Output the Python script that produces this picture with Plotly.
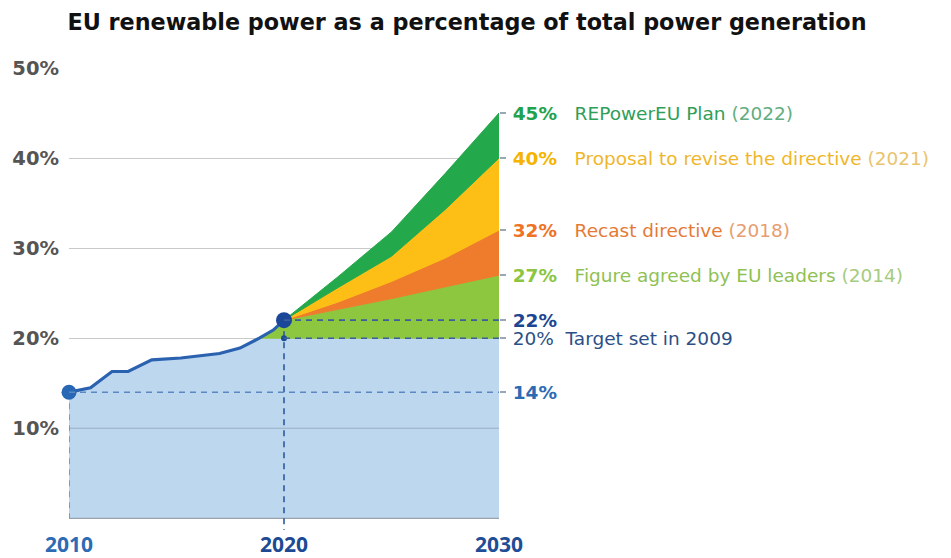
import plotly.graph_objects as go

# Share of renewables in EU power generation (%), observed
hist_years = [2010, 2011, 2012, 2012.75, 2013.85, 2015.2, 2017, 2017.95, 2018.85, 2019.5, 2020]
hist_share = [14.0, 14.5, 16.3, 16.3, 17.6, 17.8, 18.3, 18.9, 20.0, 20.9, 22.0]

# Target pathways from 2020 to 2030 (%)
path_years = [2020, 2022.5, 2025, 2027.5, 2030]
target_2009 = 20
path_2014 = [22, 23.2, 24.4, 25.7, 27]
path_2018 = [22, 24.0, 26.3, 28.9, 32]
path_2021 = [22, 25.6, 29.1, 34.3, 40]
path_2022 = [22, 26.8, 31.8, 38.3, 45]

x_ticks = [2010, 2020, 2030]
x_tick_colors = ["#2d6bb5", "#1c4a94", "#1f4d96"]
y_ticks = [10, 20, 30, 40, 50]

# Right-hand annotations: value, bold colour, caption, caption colour, year, year colour
right_items = [
    (45, "#23a24d", "REPowerEU Plan", "#2f9e58", "(2022)", "#62ad80"),
    (40, "#f4b400", "Proposal to revise the directive", "#f0b62a", "(2021)", "#e9c46e"),
    (32, "#ee7326", "Recast directive", "#e57a36", "(2018)", "#e79d70"),
    (27, "#8cc540", "Figure agreed by EU leaders", "#8fc153", "(2014)", "#a6cb80"),
    (22, "#1d4592", "", "", "", ""),
    (20, None, "Target set in 2009", "#2c4f86", "", ""),
    (14, "#2c6bb4", "", "", "", ""),
]

Y_MIN, Y_MAX = -1.3, 50

C_BLUE = "#bdd7ef"
C_LIME = "#8dc63f"
C_ORANGE = "#ef7b2c"
C_YELLOW = "#fdbf16"
C_GREEN = "#23a94b"

fig = go.Figure()

# Area under the observed series, capped at the 2009 target
cross = next(i for i, v in enumerate(hist_share) if v >= target_2009)
blue_x = hist_years[: cross + 1] + [path_years[-1]]
blue_y = [min(v, target_2009) for v in hist_share[: cross + 1]] + [target_2009]
fig.add_trace(go.Scatter(x=blue_x, y=blue_y, mode="lines", fill="tozeroy",
                         fillcolor=C_BLUE, line=dict(color=C_BLUE, width=0.5),
                         hoverinfo="skip", showlegend=False))


def band(upper_x, upper_y, lower_x, lower_y, color):
    xs = list(upper_x) + list(reversed(lower_x))
    ys = list(upper_y) + list(reversed(lower_y))
    fig.add_trace(go.Scatter(x=xs, y=ys, mode="lines", fill="toself",
                             fillcolor=color, line=dict(color=color, width=1),
                             hoverinfo="skip", showlegend=False))


# 2014 band: above the 20% target, under the observed line then the 27% path
band(hist_years[cross:] + path_years[1:], hist_share[cross:] + path_2014[1:],
     [hist_years[cross], path_years[-1]], [target_2009, target_2009], C_LIME)
band(path_years, path_2018, path_years, path_2014, C_ORANGE)
band(path_years, path_2021, path_years, path_2018, C_YELLOW)
band(path_years, path_2022, path_years, path_2021, C_GREEN)

# 10% gridline shown over the filled area, and the baseline
fig.add_trace(go.Scatter(x=[x_ticks[0], x_ticks[-1]], y=[10, 10], mode="lines",
                         line=dict(color="rgba(110,125,145,0.45)", width=1),
                         hoverinfo="skip", showlegend=False))
fig.add_trace(go.Scatter(x=[x_ticks[0], x_ticks[-1]], y=[0, 0], mode="lines",
                         line=dict(color="#9aa3ad", width=1.2),
                         hoverinfo="skip", showlegend=False))

dash = "6px,5px"
# Reference lines (drawn on the right-hand axis, which shares the scale)
fig.add_trace(go.Scatter(x=[hist_years[0], path_years[-1]], y=[hist_share[0]] * 2,
                         mode="lines", yaxis="y2",
                         line=dict(color="#5b88c2", width=1.6, dash=dash),
                         hoverinfo="skip", showlegend=False))
fig.add_trace(go.Scatter(x=[path_years[0], path_years[-1]], y=[hist_share[-1]] * 2,
                         mode="lines", yaxis="y2",
                         line=dict(color="#3b5f9c", width=1.6, dash=dash),
                         hoverinfo="skip", showlegend=False))
fig.add_trace(go.Scatter(x=[path_years[0], path_years[-1]], y=[target_2009] * 2,
                         mode="lines", yaxis="y2",
                         line=dict(color="#3b5f9c", width=1.6, dash=dash),
                         hoverinfo="skip", showlegend=False))
fig.add_trace(go.Scatter(x=[hist_years[0]] * 2, y=[hist_share[0], 0], mode="lines",
                         line=dict(color="#6a8cba", width=1.6, dash=dash),
                         hoverinfo="skip", showlegend=False))
fig.add_trace(go.Scatter(x=[hist_years[-1]] * 2, y=[hist_share[-1], Y_MIN], mode="lines",
                         line=dict(color="#2c5aa0", width=1.6, dash=dash),
                         hoverinfo="skip", showlegend=False))

# Observed series
fig.add_trace(go.Scatter(x=hist_years, y=hist_share, mode="lines",
                         line=dict(color="#2a62b0", width=3.2),
                         hoverinfo="skip", showlegend=False))

# End-point markers
fig.add_trace(go.Scatter(x=[hist_years[0], hist_years[-1]], y=[hist_share[0], hist_share[-1]],
                         mode="markers", cliponaxis=False,
                         marker=dict(size=[15, 16], color=["#2867b4", "#1a4799"],
                                     opacity=1, line=dict(width=0)),
                         hoverinfo="skip", showlegend=False))
fig.add_trace(go.Scatter(x=[hist_years[-1]], y=[target_2009], mode="markers",
                         marker=dict(size=6, color="#1f4b97", opacity=1, line=dict(width=0)),
                         hoverinfo="skip", showlegend=False))

# Right-hand labels
r_vals, r_text = [], []
for val, bold_col, cap, cap_col, yr, yr_col in right_items:
    if bold_col:
        t = f"<span style='color:{bold_col}'><b>{val}%</b></span>"
        gap = "\u00a0\u00a0\u00a0"
    else:
        t = f"<span style='color:{cap_col}'>{val}%</span>"
        gap = "\u00a0\u00a0"
    if cap:
        t += f"<span style='color:{cap_col}'>{gap}{cap}</span>"
    if yr:
        t += f"<span style='color:{yr_col}'> {yr}</span>"
    r_vals.append(val)
    r_text.append(t)

x_text = [f"<span style='color:{c}'><b>{y}</b></span>" for y, c in zip(x_ticks, x_tick_colors)]

fig.update_layout(
    width=951, height=558, autosize=False,
    margin=dict(l=69.3, r=451.7, t=68, b=28.3, pad=0),
    paper_bgcolor="white", plot_bgcolor="white",
    title=dict(text="<b>EU renewable power as a percentage of total power generation</b>",
               x=467 / 951, xanchor="center", xref="container",
               y=1 - 22 / 558, yanchor="middle", yref="container",
               font=dict(family="DejaVu Sans", size=22.3, color="#111111")),
    xaxis=dict(range=[x_ticks[0], x_ticks[-1]], tickvals=x_ticks, ticktext=x_text,
               showgrid=False, zeroline=False, showline=False, ticks="",
               automargin=False, ticklabelstandoff=0,
               tickfont=dict(family="Open Sans", size=21)),
    yaxis=dict(range=[Y_MIN, Y_MAX], tickvals=y_ticks,
               ticktext=[f"<b>{v}%</b>" for v in y_ticks],
               showgrid=True, gridcolor="#c9c9c9", gridwidth=1,
               zeroline=False, showline=False, ticks="",
               automargin=False, ticklabelstandoff=9,
               tickfont=dict(family="DejaVu Sans", size=19.5, color="#555555")),
    yaxis2=dict(range=[Y_MIN, Y_MAX], overlaying="y", side="right", anchor="x",
                tickvals=r_vals, ticktext=r_text,
                showgrid=False, zeroline=False, showline=False,
                ticks="outside", ticklen=6, tickwidth=1.5, tickcolor="#9aa7b4",
                automargin=False, ticklabelstandoff=3,
                tickfont=dict(family="DejaVu Sans", size=18.5)),
)

fig.write_html("out.html")
